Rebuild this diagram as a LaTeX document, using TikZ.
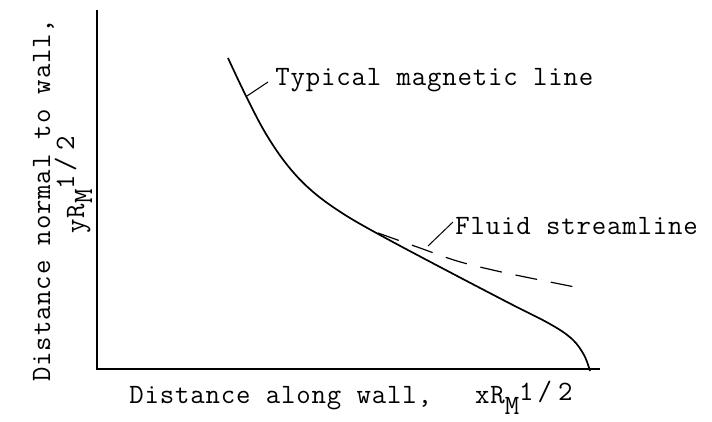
\documentclass[tikz,border=0pt]{standalone}
\usepackage{fontspec}
\setmonofont[LetterSpace=3]{Latin Modern Mono}
\usetikzlibrary{positioning}
\tikzset{
  axisline/.style={line width=0.7pt},
  fieldline/.style={line width=0.85pt},
  flowline/.style={line width=0.6pt, dash pattern=on 11pt off 7pt},
  leader/.style={line width=0.5pt},
  lbl/.style={font=\ttfamily\fontsize{14}{16}\selectfont, inner sep=0pt, anchor=base west},
}
\newcommand{\rmhalf}[2]{R\raisebox{#1}{M}\raisebox{#2}{1\kern2pt/\kern3pt2}}

\begin{document}
\begin{tikzpicture}[x=0.5pt, y=-0.5pt]
  \useasboundingbox (0,0) rectangle (712,422);
  % axes
  \coordinate (origin) at (97,369);
  \coordinate (ytop) at (97,10);
  \coordinate (xend) at (600,369);
  \draw[axisline] (ytop) -- (origin) -- (xend);
  % magnetic line and streamline
  \draw[fieldline] plot[smooth, tension=0.6] coordinates {
    (228,58) (246,96) (266,134) (288,166) (312,191) (342,213) (380,235)
    (440,267) (507,302) (550,324) (572,339) (584,355) (590,371)};
  \draw[flowline] plot[smooth, tension=0.6] coordinates {
    (378,233) (420,248) (457,261) (497,271) (540,280) (585,289)};
  \coordinate (magtip) at (247,96);
  \coordinate (flowtip) at (428,246);
  % labels
  \node[lbl] (maglabel) at (275,86) {Typical magnetic line};
  \node[lbl] (flowlabel) at (455,235) {Fluid streamline};
  \draw[leader] ([xshift=-3.5pt, yshift=2pt]maglabel.base west) -- (magtip);
  \draw[leader] ([xshift=-1pt, yshift=6.5pt]flowlabel.base west) -- (flowtip);
  % axis titles
  \node[lbl] (xtitle) at (129,403)
    {Distance along wall,\hspace{21.5pt}x\rmhalf{-5.5pt}{1.5pt}};
  \node[lbl, rotate=90] (ytitle) at (50,382) {Distance normal to wall,};
  \node[lbl, rotate=90] (yvar) at (84,234) {y\rmhalf{-4pt}{5pt}};
\end{tikzpicture}
\end{document}
